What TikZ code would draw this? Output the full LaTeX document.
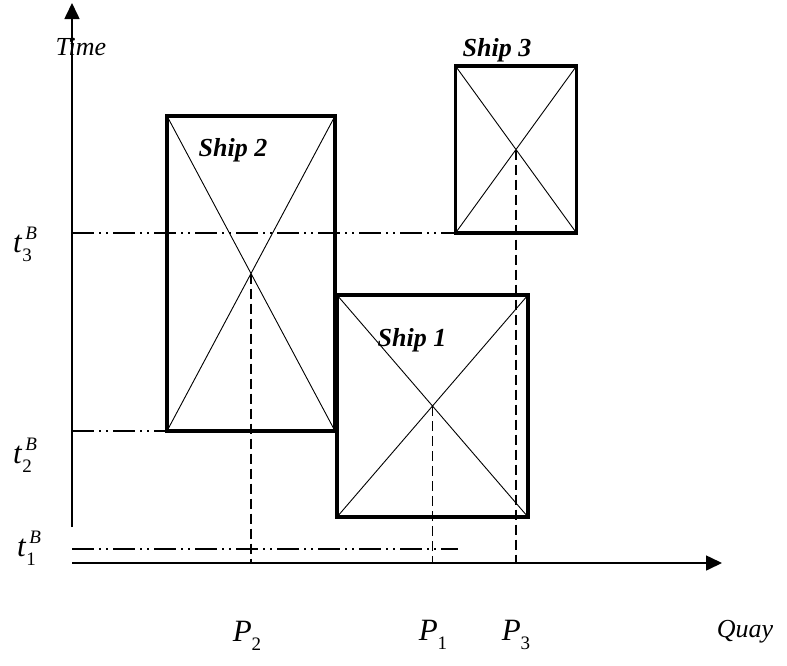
\documentclass[tikz,border=0pt]{standalone}
\usepackage{fontspec}
\setmainfont{Liberation Serif}
\usetikzlibrary{positioning, arrows.meta}

\newcommand{\tlab}[1]{\textit{t}\rlap{\raisebox{-9pt}{\fontsize{19}{19}\selectfont #1}}\hspace{3pt}\raisebox{13pt}{\fontsize{19}{19}\selectfont\itshape B}}
\newcommand{\plab}[1]{\textit{P}\raisebox{-9pt}{\fontsize{19}{19}\selectfont #1}}

\begin{document}
\begin{tikzpicture}[
    x=1pt, y=-1pt,
    shipbox/.style={draw, line width=3.8pt, outer sep=0pt, inner sep=0pt},
    cross/.style={line width=0.9pt},
    axisline/.style={line width=1.6pt},
    guide/.style={line width=1.2pt, dash pattern=on 22pt off 5pt on 2pt off 5pt on 2pt off 5pt},
    drop/.style={line width=1.2pt, dash pattern=on 10pt off 5pt},
    lab/.style={font=\fontsize{26}{30}\selectfont\itshape, inner sep=0pt},
    symlab/.style={font=\fontsize{31}{34}\selectfont, inner sep=0pt},
    shiplab/.style={font=\fontsize{26}{30}\selectfont\bfseries\itshape, inner sep=0pt}
]
\useasboundingbox (0,0) rectangle (787,665);

% axes
\coordinate (ytop) at (72,3);
\coordinate (ybot) at (72,527);
\coordinate (xl) at (72,563);
\coordinate (xr) at (722,563);
\draw[axisline, -{Triangle[length=16pt, width=15pt]}] (ybot) -- (ytop);
\draw[axisline, -{Triangle[length=16pt, width=15pt]}] (xl) -- (xr);

% ships
\node[shipbox, minimum width=168pt, minimum height=315pt] (S2) at (251,273.5) {};
\node[shipbox, minimum width=191pt, minimum height=222pt] (S1) at (432.5,406) {};
\node[shipbox, minimum width=121pt, minimum height=167pt] (S3) at (516,149.5) {};
\foreach \s in {S1,S2,S3}
    \draw[cross] (\s.north west) -- (\s.south east) (\s.north east) -- (\s.south west);

% berthing times
\coordinate (t3) at (72,233);
\coordinate (t2) at (72,431);
\coordinate (t1) at (72,549);
\coordinate (t1e) at (458,549);
\draw[guide] (t3) -- (S3.south west);
\draw[guide] (t2) -- (S2.south west);
\draw[guide] (t1) -- (t1e);

% positions
\draw[drop] (S2.center) -- (S2.center |- xl);
\draw[drop] (S1.center) -- (S1.center |- xl);
\draw[drop] (S3.center) -- (S3.center |- xl);

% labels
\node[lab] (timelbl) at (81,47) {Time};
\node[lab] (quaylbl) at (745,632) {Quay};
\node[shiplab] (ship3lbl) at (497,50) {Ship 3};
\node[shiplab] (ship2lbl) at (233,150) {Ship 2};
\node[shiplab] (ship1lbl) at (412,340) {Ship 1};
\node[symlab] (t3lbl) at (25,244) {\tlab{3}};
\node[symlab] (t2lbl) at (25,455) {\tlab{2}};
\node[symlab] (t1lbl) at (29,548) {\tlab{1}};
\node[symlab] (p2lbl) at (247,636) {\plab{2}};
\node[symlab] (p1lbl) at (433,635) {\plab{1}};
\node[symlab] (p3lbl) at (516,635) {\plab{3}};
\end{tikzpicture}
\end{document}
